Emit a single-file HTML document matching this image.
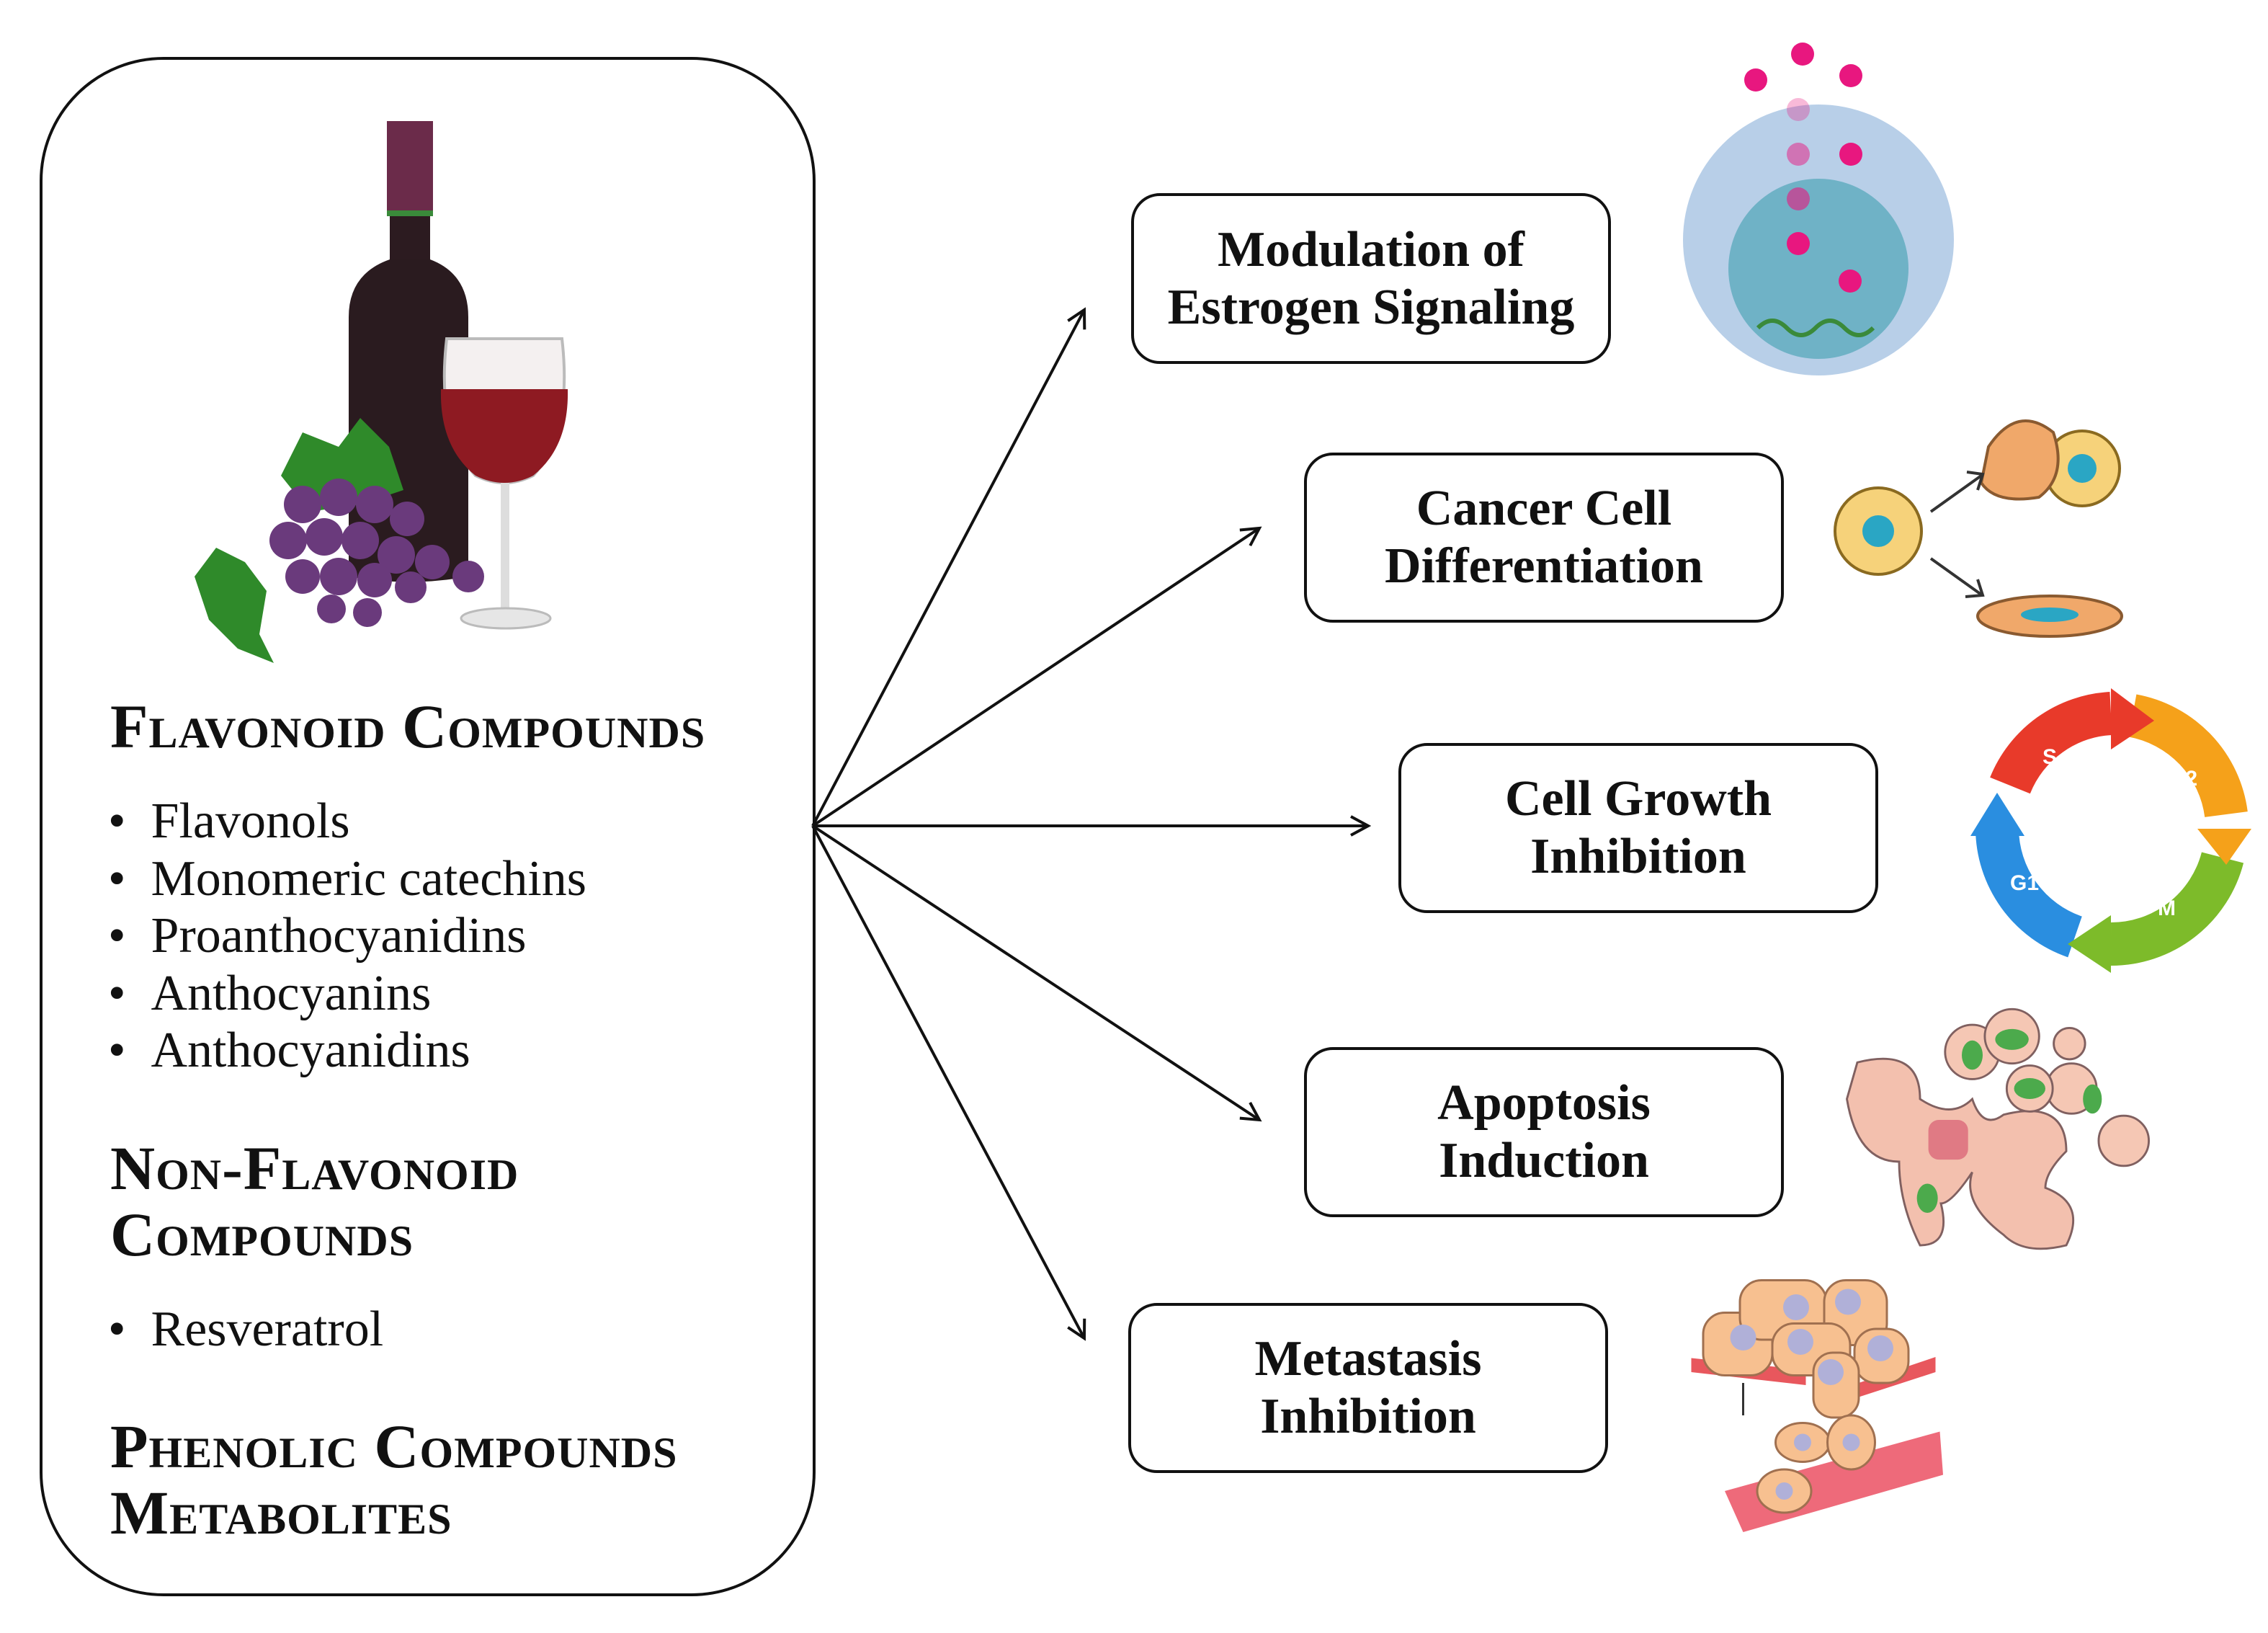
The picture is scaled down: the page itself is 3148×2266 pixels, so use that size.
<!DOCTYPE html>
<html><head><meta charset="utf-8"><style>
html,body{margin:0;padding:0;background:#fff}
body{width:3148px;height:2266px;position:relative;overflow:hidden;font-family:"Liberation Serif",serif}
.t{position:absolute;white-space:nowrap;color:#111}
.h{font-size:86px;font-variant:small-caps;font-weight:bold;letter-spacing:1px}
.li{font-size:70px}
.box{position:absolute;border:4px solid #111;border-radius:40px;box-sizing:border-box;display:flex;align-items:center;justify-content:center;text-align:center;font-weight:bold;font-size:70px;line-height:80px;color:#111}
</style></head><body>
<svg width="3148" height="2266" style="position:absolute;left:0;top:0">
<defs><marker id="a" markerWidth="30" markerHeight="30" refX="26" refY="15" orient="auto" markerUnits="userSpaceOnUse"><path d="M2,2 L26,15 L2,28" fill="none" stroke="#111" stroke-width="4"/></marker></defs>
<rect x="57" y="81" width="1073" height="2132" rx="170" fill="none" stroke="#111" stroke-width="4"/>
<g stroke="#111" stroke-width="4" marker-end="url(#a)">
<line x1="1128" y1="1146" x2="1505" y2="430"/>
<line x1="1128" y1="1146" x2="1748" y2="733"/>
<line x1="1128" y1="1146" x2="1899" y2="1146"/>
<line x1="1128" y1="1146" x2="1748" y2="1554"/>
<line x1="1128" y1="1146" x2="1505" y2="1857"/>
</g>
<!-- bottle -->
<rect x="541" y="170" width="56" height="200" fill="#2c1b20"/>
<rect x="537" y="168" width="64" height="130" fill="#6b2b4a"/>
<rect x="537" y="292" width="64" height="8" fill="#3a8a3a"/>
<path d="M541,360 Q484,380 484,440 L484,800 Q567,815 650,800 L650,440 Q650,380 597,360Z" fill="#2a1b1f"/>
<!-- glass -->
<path d="M620,470 Q605,600 660,660 Q700,680 740,660 Q795,600 780,470Z" fill="#f4f0f0" stroke="#bbb" stroke-width="4"/>
<path d="M612,540 Q610,620 660,660 Q700,680 740,660 Q790,620 788,540Z" fill="#8e1a22"/>
<rect x="695" y="670" width="12" height="180" fill="#ddd"/>
<ellipse cx="702" cy="858" rx="62" ry="14" fill="#e6e6e6" stroke="#bbb" stroke-width="3"/>
<!-- leaves -->
<path d="M390,660 L420,600 L470,620 L500,580 L540,620 L560,680 L500,700 L430,710Z" fill="#2f8a2a"/>
<path d="M270,800 L300,760 L340,780 L370,820 L360,880 L380,920 L330,900 L290,860Z" fill="#2f8a2a"/>
<g fill="#6a3a7c">
<circle cx="420" cy="700" r="26"/><circle cx="470" cy="690" r="26"/><circle cx="520" cy="700" r="26"/><circle cx="565" cy="720" r="24"/>
<circle cx="400" cy="750" r="26"/><circle cx="450" cy="745" r="26"/><circle cx="500" cy="750" r="26"/><circle cx="550" cy="770" r="26"/><circle cx="600" cy="780" r="24"/>
<circle cx="420" cy="800" r="24"/><circle cx="470" cy="800" r="26"/><circle cx="520" cy="805" r="24"/><circle cx="570" cy="815" r="22"/><circle cx="650" cy="800" r="22"/>
<circle cx="460" cy="845" r="20"/><circle cx="510" cy="850" r="20"/>
</g>
<!-- estrogen -->
<circle cx="2524" cy="333" r="188" fill="#b8cfe8"/>
<circle cx="2524" cy="373" r="125" fill="#6fb2c6"/>
<g fill="#e8177f"><circle cx="2437" cy="111" r="16"/><circle cx="2502" cy="75" r="16"/><circle cx="2569" cy="105" r="16"/><circle cx="2569" cy="214" r="16"/><circle cx="2496" cy="214" r="16" opacity=".5"/><circle cx="2496" cy="276" r="16" opacity=".6"/><circle cx="2496" cy="338" r="16"/><circle cx="2568" cy="390" r="16"/><circle cx="2496" cy="152" r="16" opacity=".3"/></g>
<path d="M2440,455 q20,-20 40,0 t40,0 t40,0 t40,0" fill="none" stroke="#3a8a3a" stroke-width="6"/>
<!-- differentiation -->
<circle cx="2607" cy="737" r="60" fill="#f6d27a" stroke="#8a6a20" stroke-width="4"/><circle cx="2607" cy="737" r="22" fill="#2aa6c4"/>
<circle cx="2890" cy="650" r="52" fill="#f6d27a" stroke="#8a6a20" stroke-width="4"/><circle cx="2890" cy="650" r="20" fill="#2aa6c4"/>
<path d="M2760,620 q40,-60 90,-20 q20,60 -20,90 q-60,10 -80,-20Z" fill="#f0a86a" stroke="#8a5a30" stroke-width="4"/>
<ellipse cx="2845" cy="855" rx="100" ry="28" fill="#f0a86a" stroke="#8a5a30" stroke-width="4"/><ellipse cx="2845" cy="853" rx="40" ry="10" fill="#2aa6c4"/>
<g stroke="#333" stroke-width="4" fill="none"><line x1="2680" y1="710" x2="2750" y2="660"/><path d="M2730,655 L2752,658 L2745,680"/><line x1="2680" y1="775" x2="2750" y2="825"/><path d="M2728,828 L2752,826 L2745,804"/></g>
<!-- cycle -->
<g fill="none" stroke-width="60">
<path d="M2790,1090 A160,160 0 0 1 2930,990" stroke="#e83a2a"/>
<path d="M2960,993 A160,160 0 0 1 3090,1130" stroke="#f5a11a"/>
<path d="M3085,1190 A160,160 0 0 1 2930,1310" stroke="#7dbb2a"/>
<path d="M2880,1300 A160,160 0 0 1 2772,1150" stroke="#2a8ee0"/>
</g>
<path d="M2930,955 L2990,1000 L2930,1040Z" fill="#e83a2a"/>
<path d="M3050,1150 L3125,1150 L3090,1200Z" fill="#f5a11a"/>
<path d="M2930,1270 L2870,1310 L2930,1350Z" fill="#7dbb2a"/>
<path d="M2735,1160 L2810,1160 L2772,1100Z" fill="#2a8ee0"/>
<g fill="#fff" font-family="Liberation Sans" font-weight="bold" font-size="30"><text x="2835" y="1060">S</text><text x="3010" y="1090">G2</text><text x="2995" y="1270">M</text><text x="2790" y="1235">G1</text></g>
<!-- apoptosis -->
<g transform="translate(-1047,-592) scale(1.45)">
<path d="M2500,1425 Q2560,1410 2560,1460 Q2590,1480 2610,1460 Q2620,1490 2640,1475 Q2700,1460 2700,1510 Q2680,1530 2680,1545 Q2720,1560 2700,1600 Q2660,1610 2640,1590 Q2600,1560 2610,1530 Q2590,1560 2580,1560 Q2590,1600 2560,1600 Q2540,1560 2540,1520 Q2500,1520 2490,1460Z" fill="#f3c0ae" stroke="#806060" stroke-width="2"/>
<rect x="2568" y="1480" width="38" height="38" rx="10" fill="#e07a84"/>
<g fill="#f5c7b4" stroke="#806060" stroke-width="2"><circle cx="2610" cy="1415" r="26"/><circle cx="2648" cy="1400" r="26"/><circle cx="2703" cy="1407" r="15"/><circle cx="2705" cy="1450" r="24"/><circle cx="2755" cy="1500" r="24"/><circle cx="2665" cy="1450" r="22"/></g>
<g fill="#4caa4c"><ellipse cx="2610" cy="1418" rx="10" ry="14"/><ellipse cx="2648" cy="1403" rx="16" ry="10"/><ellipse cx="2665" cy="1450" rx="15" ry="10"/><ellipse cx="2725" cy="1460" rx="9" ry="14"/><ellipse cx="2567" cy="1555" rx="10" ry="14"/></g>
</g>
<!-- metastasis -->
<g transform="translate(-1143,-646) scale(1.5)">
<polygon points="2327,1687 2433,1698 2433,1712 2327,1700" fill="#e8575d"/><polygon points="2476,1712 2553,1686 2553,1700 2476,1725" fill="#e8575d"/>
<g fill="#f7c090" stroke="#a07050" stroke-width="2"><rect x="2338" y="1645" width="64" height="58" rx="20"/><rect x="2372" y="1615" width="80" height="55" rx="20"/><rect x="2450" y="1615" width="58" height="60" rx="20"/><rect x="2402" y="1655" width="72" height="48" rx="20"/><rect x="2478" y="1660" width="50" height="50" rx="20"/><rect x="2440" y="1682" width="42" height="60" rx="18"/></g>
<g fill="#b0b0d8"><circle cx="2375" cy="1668" r="12"/><circle cx="2424" cy="1640" r="12"/><circle cx="2472" cy="1635" r="12"/><circle cx="2428" cy="1672" r="12"/><circle cx="2502" cy="1678" r="12"/><circle cx="2456" cy="1700" r="12"/></g>
<polygon points="2358,1810 2557,1755 2560,1795 2375,1848" fill="#ee6a7a"/>
<line x1="2375" y1="1710" x2="2375" y2="1740" stroke="#333" stroke-width="2"/>
<g fill="#f7c090" stroke="#a07050" stroke-width="2"><ellipse cx="2430" cy="1765" rx="25" ry="18"/><ellipse cx="2475" cy="1765" rx="22" ry="25"/><ellipse cx="2413" cy="1810" rx="25" ry="20"/></g>
<g fill="#b0b0d8"><circle cx="2430" cy="1765" r="8"/><circle cx="2475" cy="1765" r="8"/><circle cx="2413" cy="1810" r="8"/></g>
</g>
</svg>
<div class="t h" style="left:153px;top:958px">Flavonoid Compounds</div>
<div class="t li" style="left:150px;top:1100px;line-height:79.5px">•&nbsp;&nbsp;Flavonols<br>•&nbsp;&nbsp;Monomeric catechins<br>•&nbsp;&nbsp;Proanthocyanidins<br>•&nbsp;&nbsp;Anthocyanins<br>•&nbsp;&nbsp;Anthocyanidins</div>
<div class="t h" style="left:153px;top:1575px;line-height:92px">Non-Flavonoid<br>Compounds</div>
<div class="t li" style="left:150px;top:1805px">•&nbsp;&nbsp;Resveratrol</div>
<div class="t h" style="left:153px;top:1961px;line-height:92px">Phenolic Compounds<br>Metabolites</div>
<div class="box" style="left:1570px;top:268px;width:666px;height:237px">Modulation of<br>Estrogen Signaling</div>
<div class="box" style="left:1810px;top:628px;width:666px;height:236px">Cancer Cell<br>Differentiation</div>
<div class="box" style="left:1941px;top:1031px;width:666px;height:236px">Cell Growth<br>Inhibition</div>
<div class="box" style="left:1810px;top:1453px;width:666px;height:236px">Apoptosis<br>Induction</div>
<div class="box" style="left:1566px;top:1808px;width:666px;height:236px">Metastasis<br>Inhibition</div>
</body></html>
